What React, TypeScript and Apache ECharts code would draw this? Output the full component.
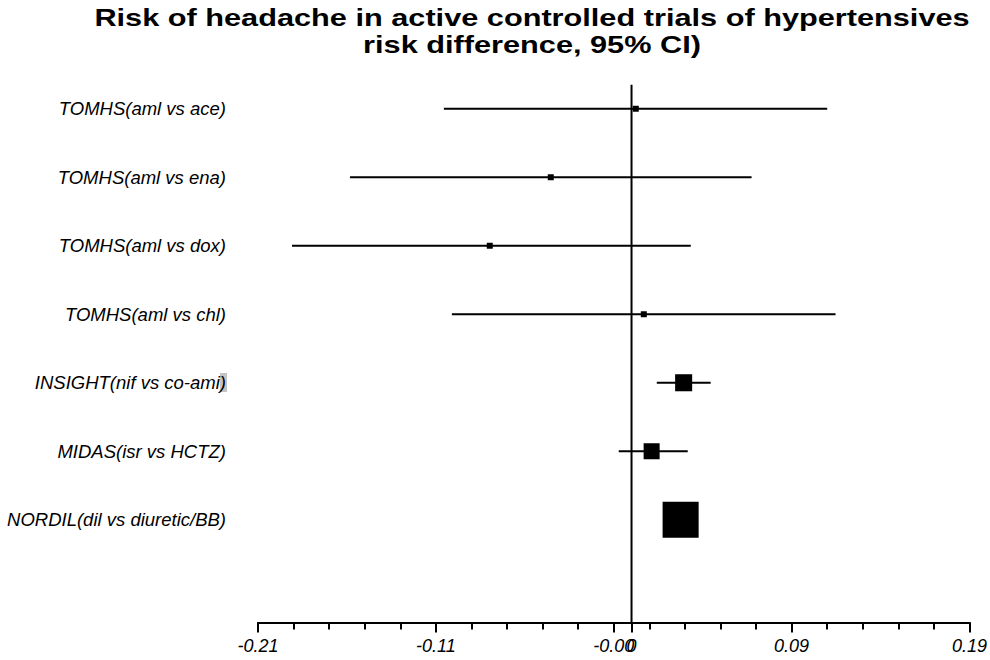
import React, { useEffect, useRef } from "react";
import * as echarts from "echarts";

// Trials, top to bottom
const studies = [
  "TOMHS(aml vs ace)",
  "TOMHS(aml vs ena)",
  "TOMHS(aml vs dox)",
  "TOMHS(aml vs chl)",
  "INSIGHT(nif vs co-ami)",
  "MIDAS(isr vs HCTZ)",
  "NORDIL(dil vs diuretic/BB)",
];

// Risk difference with 95% confidence limits
const riskDiff = [0.0024, -0.0454, -0.0797, 0.0069, 0.0293, 0.0113, 0.0276];
const lowerCI = [-0.1055, -0.1583, -0.1909, -0.101, 0.0142, -0.0072, 0.02];
const upperCI = [0.11, 0.0675, 0.0333, 0.1147, 0.0445, 0.0316, 0.035];
// Study weights (%), shown as the area of each square
const weights = [1.8, 1.8, 1.8, 1.8, 14.6, 12.9, 65.3];

// Axis ticks
const xMin = -0.21;
const xMax = 0.19;
const majorTicks = [-0.21, -0.11, -0.01, 0, 0.09, 0.19];
const majorTickLabels = ["-0.21", "-0.11", "-0.00", "0", "0.09", "0.19"];
const minorStep = 0.02;

const titleLines = [
  "Risk of headache in active controlled trials of hypertensives",
  "risk difference, 95% CI)",
];

const FONT = "'Liberation Sans', Arial, sans-serif";

export default function App() {
  const ref = useRef<HTMLDivElement>(null);

  useEffect(() => {
    if (!ref.current) return;
    const chart = echarts.init(ref.current, undefined, { renderer: "svg" });

    const rows = studies.map((_, i) => i + 1);
    const minorTicks: number[] = [];
    for (let i = 0; xMin + i * minorStep <= xMax + 1e-9; i++) {
      minorTicks.push(+(xMin + i * minorStep).toFixed(4));
    }

    const option: echarts.EChartsOption = {
      animation: false,
      backgroundColor: "#ffffff",
      graphic: [
        {
          // wide bold heading, centred on x = 532
          type: "text",
          x: 532,
          y: 4,
          scaleX: 1.28,
          style: {
            text: titleLines.join("\n"),
            fontFamily: FONT,
            fontSize: 24,
            fontWeight: "bold",
            fill: "#000",
            lineHeight: 27,
            align: "center",
            verticalAlign: "top",
          },
        },
        {
          type: "rect",
          z: -1,
          shape: { x: 220, y: 373, width: 7, height: 19 },
          style: { fill: "#c4c4c4" },
        },
      ],
      grid: { left: 258, right: 20, top: 74.5, bottom: 37.5, containLabel: false },
      xAxis: [
        {
          type: "value",
          min: xMin,
          max: xMax,
          position: "bottom",
          splitLine: { show: false },
          axisLine: { show: true, lineStyle: { color: "#000", width: 2 } },
          axisTick: {
            show: true,
            inside: false,
            length: 10,
            customValues: majorTicks,
            lineStyle: { color: "#000", width: 2 },
          },
          axisLabel: {
            show: true,
            customValues: majorTicks,
            margin: 14,
            fontFamily: FONT,
            fontSize: 18,
            fontStyle: "italic",
            color: "#000",
            formatter: (value: number) => {
              const idx = majorTicks.findIndex((v) => Math.abs(v - value) < 1e-9);
              return idx >= 0 ? majorTickLabels[idx] : "";
            },
          },
        },
        {
          type: "value",
          min: xMin,
          max: xMax,
          position: "bottom",
          offset: 0,
          splitLine: { show: false },
          axisLine: { show: false },
          axisTick: {
            show: true,
            length: 7,
            customValues: minorTicks,
            lineStyle: { color: "#000", width: 2 },
          },
          axisLabel: { show: false },
        },
      ],
      yAxis: {
        type: "value",
        inverse: true,
        min: 0.5,
        max: 8.5,
        splitLine: { show: false },
        axisLine: { show: false },
        axisTick: { show: false },
        axisLabel: {
          show: true,
          customValues: rows,
          margin: 32,
          fontFamily: FONT,
          fontSize: 18.5,
          fontStyle: "italic",
          color: "#000",
          formatter: (value: number) => studies[Math.round(value) - 1] ?? "",
        },
      },
      series: [
        {
          // line of no effect
          type: "line",
          xAxisIndex: 0,
          data: [
            [0, 0.65],
            [0, 8.5],
          ],
          symbol: "none",
          silent: true,
          lineStyle: { color: "#000", width: 2 },
          z: 2,
        },
        {
          // confidence intervals
          type: "custom",
          xAxisIndex: 0,
          data: studies.map((_, i) => [lowerCI[i], upperCI[i], rows[i]]),
          encode: { x: [0, 1], y: 2 },
          renderItem: (params: any, api: any) => {
            const a = api.coord([api.value(0), api.value(2)]);
            const b = api.coord([api.value(1), api.value(2)]);
            return {
              type: "line",
              shape: { x1: a[0], y1: a[1], x2: b[0], y2: b[1] },
              style: { stroke: "#000", lineWidth: 2 },
            };
          },
          silent: true,
          z: 3,
        },
        {
          // point estimates
          type: "scatter",
          xAxisIndex: 0,
          data: studies.map((_, i) => [riskDiff[i], rows[i]]),
          symbol: "rect",
          symbolSize: (_v: any, p: any) => 4.46 * Math.sqrt(weights[p.dataIndex]),
          itemStyle: { color: "#000", opacity: 1 },
          silent: true,
          z: 4,
        },
      ],
    };

    chart.setOption(option);
    return () => chart.dispose();
  }, []);

  return (
    <div
      ref={ref}
      style={{ position: "fixed", left: 0, top: 0, width: 990, height: 660, background: "#fff" }}
    />
  );
}
